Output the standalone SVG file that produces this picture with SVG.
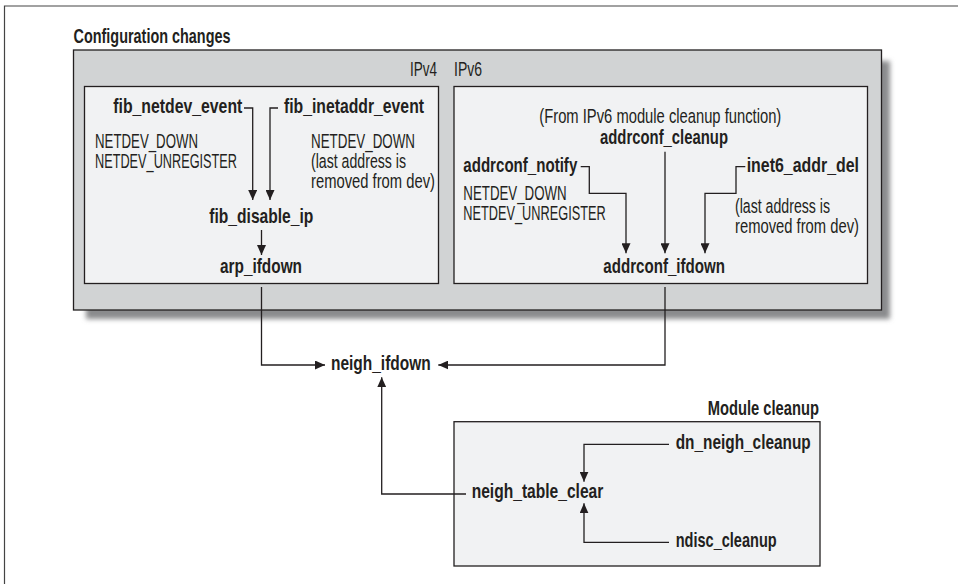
<svg xmlns="http://www.w3.org/2000/svg" width="958" height="584" viewBox="0 0 958 584">
<style>
text{font-family:"Liberation Sans Narrow","Liberation Sans",Arial,sans-serif;font-size:20.5px;fill:#231f20}
.b{font-weight:bold}
.box{stroke:#231f20;stroke-width:1.3}
.c{fill:none;stroke:#231f20;stroke-width:1.3}
</style>
<defs>
<marker id="ah" markerUnits="userSpaceOnUse" markerWidth="11" markerHeight="9" refX="10" refY="4.5" orient="auto">
<path d="M0,0 L10,4.5 L0,9 z" fill="#231f20"/>
</marker>
<filter id="sh" x="-5%" y="-10%" width="110%" height="120%">
<feGaussianBlur stdDeviation="2.5"/>
</filter>
</defs>
<rect width="958" height="584" fill="#fff"/>
<path d="M4.5,584 V6 H958" fill="none" stroke="#444" stroke-width="1.2"/>

<g id="config">
<text class="b" x="73.5" y="42.5" textLength="157" lengthAdjust="spacingAndGlyphs">Configuration changes</text>
<rect x="86" y="61" width="804" height="258" fill="#8a8b8d" filter="url(#sh)"/>
<rect class="box" x="73.5" y="50" width="808" height="260" fill="#d1d3d4"/>
<text x="410" y="76" textLength="27" lengthAdjust="spacingAndGlyphs">IPv4</text>
<text x="454" y="76" textLength="28" lengthAdjust="spacingAndGlyphs">IPv6</text>
</g>

<g id="ipv4">
<rect class="box" x="84.5" y="86.5" width="354" height="197" fill="#f1f2f3"/>
</g>
<g id="ipv6">
<rect class="box" x="454" y="86.5" width="413.5" height="197" fill="#f1f2f3"/>
</g>

<g id="fib_netdev_event"><text class="b" x="113.3" y="112.7" textLength="129" lengthAdjust="spacingAndGlyphs">fib_netdev_event</text></g>
<g id="fib_inetaddr_event"><text class="b" x="284" y="112.7" textLength="140" lengthAdjust="spacingAndGlyphs">fib_inetaddr_event</text></g>
<g id="ipv4_notes_left">
<text x="95" y="148.3" textLength="103" lengthAdjust="spacingAndGlyphs">NETDEV_DOWN</text>
<text x="95" y="168.3" textLength="142" lengthAdjust="spacingAndGlyphs">NETDEV_UNREGISTER</text>
</g>
<g id="ipv4_notes_right">
<text x="311" y="148.3" textLength="104" lengthAdjust="spacingAndGlyphs">NETDEV_DOWN</text>
<text x="311" y="168.3" textLength="95" lengthAdjust="spacingAndGlyphs">(last address is</text>
<text x="311" y="188.3" textLength="124" lengthAdjust="spacingAndGlyphs">removed from dev)</text>
</g>
<g id="fib_disable_ip"><text class="b" x="209.3" y="222.7" textLength="104" lengthAdjust="spacingAndGlyphs">fib_disable_ip</text></g>
<g id="arp_ifdown"><text class="b" x="220" y="272.7" textLength="82" lengthAdjust="spacingAndGlyphs">arp_ifdown</text></g>

<g id="from_ipv6_note"><text x="539.3" y="123.3" textLength="242" lengthAdjust="spacingAndGlyphs">(From IPv6 module cleanup function)</text></g>
<g id="addrconf_cleanup"><text class="b" x="600" y="144" textLength="128" lengthAdjust="spacingAndGlyphs">addrconf_cleanup</text></g>
<g id="addrconf_notify"><text class="b" x="463.3" y="171.7" textLength="114" lengthAdjust="spacingAndGlyphs">addrconf_notify</text></g>
<g id="ipv6_notes_left">
<text x="463.3" y="200" textLength="103.4" lengthAdjust="spacingAndGlyphs">NETDEV_DOWN</text>
<text x="463.3" y="220" textLength="142.4" lengthAdjust="spacingAndGlyphs">NETDEV_UNREGISTER</text>
</g>
<g id="inet6_addr_del"><text class="b" x="746.7" y="171.7" textLength="112.3" lengthAdjust="spacingAndGlyphs">inet6_addr_del</text></g>
<g id="ipv6_notes_right">
<text x="735" y="213.3" textLength="95" lengthAdjust="spacingAndGlyphs">(last address is</text>
<text x="735" y="233.3" textLength="124" lengthAdjust="spacingAndGlyphs">removed from dev)</text>
</g>
<g id="addrconf_ifdown"><text class="b" x="603.3" y="272.7" textLength="121.7" lengthAdjust="spacingAndGlyphs">addrconf_ifdown</text></g>

<g id="neigh_ifdown"><text class="b" x="331" y="370" textLength="99.7" lengthAdjust="spacingAndGlyphs">neigh_ifdown</text></g>

<g id="module_cleanup">
<text class="b" x="707.7" y="415" textLength="111.3" lengthAdjust="spacingAndGlyphs">Module cleanup</text>
<rect class="box" x="454" y="421.7" width="366" height="144.3" fill="#f1f2f3"/>
</g>
<g id="neigh_table_clear"><text class="b" x="471.7" y="498.3" textLength="131.6" lengthAdjust="spacingAndGlyphs">neigh_table_clear</text></g>
<g id="dn_neigh_cleanup"><text class="b" x="675.7" y="449.3" textLength="135" lengthAdjust="spacingAndGlyphs">dn_neigh_cleanup</text></g>
<g id="ndisc_cleanup"><text class="b" x="675.7" y="546.7" textLength="101" lengthAdjust="spacingAndGlyphs">ndisc_cleanup</text></g>

<g id="connectors">
<path class="c" d="M244,108 H252.7 V200" marker-end="url(#ah)"/>
<path class="c" d="M278,108 H270 V200" marker-end="url(#ah)"/>
<path class="c" d="M261.5,230 V255" marker-end="url(#ah)"/>
<path class="c" d="M261.5,287 V365 H325" marker-end="url(#ah)"/>
<path class="c" d="M665,287 V365 H438.3" marker-end="url(#ah)"/>
<path class="c" d="M665,151.7 V253.3" marker-end="url(#ah)"/>
<path class="c" d="M580.7,166.7 H589.3 V193.3 H626 V253.3" marker-end="url(#ah)"/>
<path class="c" d="M745.3,166.7 H736 V193.3 H705 V253.3" marker-end="url(#ah)"/>
<path class="c" d="M466,494 H381.7 V377.3" marker-end="url(#ah)"/>
<path class="c" d="M669,444.3 H584 V481.7" marker-end="url(#ah)"/>
<path class="c" d="M669,542.3 H584 V503.3" marker-end="url(#ah)"/>
</g>
</svg>
